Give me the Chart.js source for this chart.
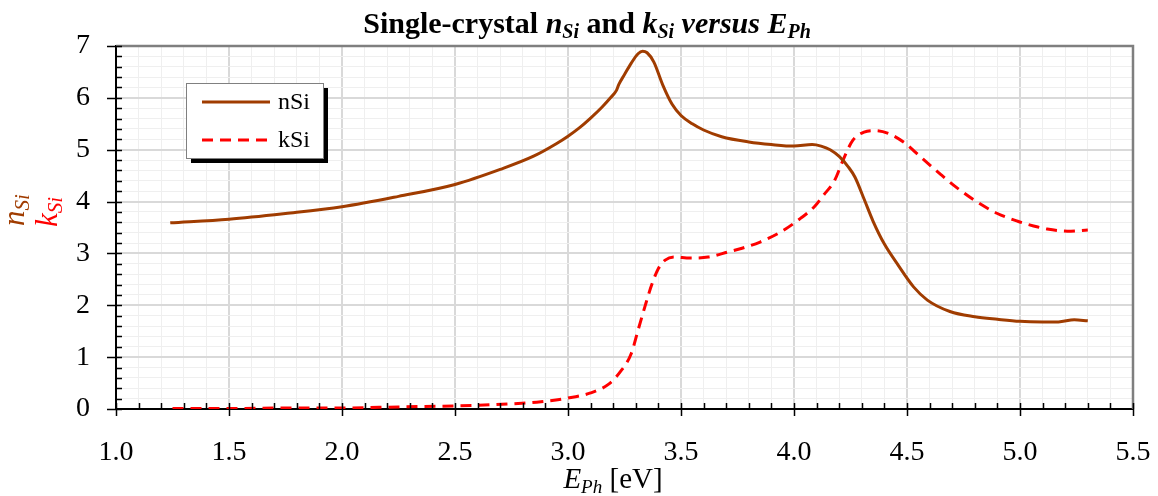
<!DOCTYPE html>
<html>
<head>
<meta charset="utf-8">
<title>Single-crystal nSi and kSi versus EPh</title>
<script src="https://cdn.jsdelivr.net/npm/chart.js@4.4.1/dist/chart.umd.min.js"></script>
<style>
  html, body { margin: 0; padding: 0; background: #fff; }
  #wrap { width: 1158px; height: 496px; }
</style>
</head>
<body>
<div id="wrap"><canvas id="nk" width="1158" height="496"></canvas></div>
<script>
/* ---------- 1.  Data: photon energy [eV] vs optical constants ---------- */
const nE  = [1.24, 1.50, 1.75, 2.00, 2.25, 2.50, 2.70, 2.85, 2.95, 3.00,
             3.05, 3.10, 3.15, 3.19, 3.215, 3.225, 3.25, 3.28, 3.31, 3.33,
             3.35, 3.38, 3.42, 3.46, 3.50, 3.55, 3.60, 3.68, 3.80, 3.90,
             4.00, 4.08, 4.12, 4.16, 4.20, 4.24, 4.27, 4.31, 4.35, 4.40,
             4.46, 4.53, 4.59, 4.69, 4.80, 4.90, 5.00, 5.10, 5.17, 5.24, 5.30];
const nSi = [3.59, 3.66, 3.77, 3.90, 4.10, 4.33, 4.62, 4.88, 5.12, 5.26,
             5.42, 5.61, 5.82, 6.01, 6.15, 6.26, 6.45, 6.67, 6.85, 6.90,
             6.87, 6.69, 6.24, 5.88, 5.66, 5.50, 5.38, 5.25, 5.15, 5.10,
             5.07, 5.10, 5.07, 5.00, 4.87, 4.67, 4.47, 4.05, 3.62, 3.18,
             2.78, 2.35, 2.10, 1.88, 1.78, 1.73, 1.69, 1.68, 1.68, 1.72, 1.70];

const kE  = [1.25, 1.50, 1.75, 2.00, 2.25, 2.50, 2.75, 2.88, 3.00, 3.10,
             3.18, 3.23, 3.28, 3.31, 3.34, 3.37, 3.40, 3.43, 3.47, 3.54,
             3.62, 3.71, 3.77, 3.85, 3.94, 4.03, 4.09, 4.13, 4.18, 4.22,
             4.26, 4.31, 4.36, 4.42, 4.49, 4.56, 4.65, 4.72, 4.80, 4.90,
             4.99, 5.06, 5.12, 5.21, 5.30];
const kSi = [0.01, 0.01, 0.02, 0.02, 0.04, 0.06, 0.10, 0.14, 0.21, 0.31,
             0.48, 0.71, 1.07, 1.52, 1.97, 2.39, 2.71, 2.87, 2.93, 2.91,
             2.93, 3.03, 3.10, 3.22, 3.41, 3.68, 3.90, 4.12, 4.41, 4.83,
             5.18, 5.34, 5.37, 5.31, 5.13, 4.86, 4.52, 4.27, 4.02, 3.77,
             3.62, 3.53, 3.47, 3.43, 3.45];

/* axis ranges + steps */
const X_MIN = 1.0, X_MAX = 5.5, X_MAJOR = 0.5, X_MINOR = 0.1;
const Y_MIN = 0,   Y_MAX = 7,   Y_MAJOR = 1,   Y_MINOR = 0.2;

/* ---------- 2.  Styling ---------- */
const N_COLOR = "#a03c00", K_COLOR = "#ff0000";
const SERIF   = '"Liberation Serif", "Times New Roman", serif';

const onStep = (v, s) => Math.abs(v / s - Math.round(v / s)) < 1e-6;
const toXY   = (xs, ys) => xs.map((x, i) => ({ x, y: ys[i] }));

/* draws a run of differently styled pieces centred on cx */
function richText(ctx, parts, cx, baseY, color) {
  let w = 0;
  parts.forEach(p => { ctx.font = p.font; p.w = ctx.measureText(p.t).width; w += p.w; });
  let x = cx - w / 2;
  ctx.fillStyle = color; ctx.textAlign = "left"; ctx.textBaseline = "alphabetic";
  parts.forEach(p => { ctx.font = p.font; ctx.fillText(p.t, x, baseY + (p.dy || 0)); x += p.w; });
}

/* ---------- 3.  Frame / ticks / titles / legend ---------- */
const decorPlugin = {
  id: "decor",
  afterDraw(chart) {
    const { ctx, chartArea: a, scales: { x, y } } = chart;
    ctx.save();

    // top + right frame edges
    ctx.strokeStyle = "#7f7f7f"; ctx.lineWidth = 2.5;
    ctx.beginPath();
    ctx.moveTo(a.left, a.top); ctx.lineTo(a.right, a.top); ctx.lineTo(a.right, a.bottom);
    ctx.stroke();

    // tick marks: major cross the axis, minor point inwards
    ctx.strokeStyle = "#000"; ctx.lineWidth = 1.5;
    ctx.beginPath();
    x.ticks.forEach(t => {
      const px = Math.round(x.getPixelForValue(t.value)) + 0.5;
      const major = onStep(t.value, X_MAJOR);
      ctx.moveTo(px, a.bottom - 6); ctx.lineTo(px, a.bottom + (major ? 7 : 0));
    });
    y.ticks.forEach(t => {
      const py = Math.round(y.getPixelForValue(t.value)) + 0.5;
      const major = onStep(t.value, Y_MAJOR);
      ctx.moveTo(a.left - (major ? 9 : 0), py); ctx.lineTo(a.left + 6, py);
    });
    ctx.stroke();

    // chart title
    const B = s => `bold ${s}px ${SERIF}`, BI = s => `italic bold ${s}px ${SERIF}`;
    richText(ctx, [
      { t: "Single-crystal ", font: B(30) },
      { t: "n", font: BI(30) }, { t: "Si", font: BI(20), dy: 5 },
      { t: " and ", font: B(30) },
      { t: "k", font: BI(30) }, { t: "Si", font: BI(20), dy: 5 },
      { t: " versus E", font: BI(30) }, { t: "Ph", font: BI(20), dy: 5 }
    ], 587, 33, "#000");

    // x axis title
    const I = s => `italic ${s}px ${SERIF}`, R = s => `${s}px ${SERIF}`;
    richText(ctx, [
      { t: "E", font: I(29) }, { t: "Ph", font: I(19), dy: 5 }, { t: " [eV]", font: R(29) }
    ], 613, 488, "#000");

    // y axis title, two coloured lines
    ctx.save();
    ctx.translate(24, 210); ctx.rotate(-Math.PI / 2);
    richText(ctx, [{ t: "n", font: I(31) }, { t: "Si", font: I(21), dy: 5 }], 0, 0, N_COLOR);
    ctx.restore();
    ctx.save();
    ctx.translate(57, 212); ctx.rotate(-Math.PI / 2);
    richText(ctx, [{ t: "k", font: I(31) }, { t: "Si", font: I(21), dy: 5 }], 0, 0, K_COLOR);
    ctx.restore();

    // legend box with drop shadow
    const lx = 186, ly = 83, lw = 137, lh = 75;
    ctx.fillStyle = "#000"; ctx.fillRect(lx + 5, ly + 5, lw, lh);
    ctx.fillStyle = "#fff"; ctx.fillRect(lx, ly, lw, lh);
    ctx.strokeStyle = "#808080"; ctx.lineWidth = 1;
    ctx.strokeRect(lx + 0.5, ly + 0.5, lw, lh);
    chart.data.datasets.forEach((ds, i) => {
      const yy = ly + 19 + i * 38;
      ctx.strokeStyle = ds.borderColor; ctx.lineWidth = 3;
      ctx.setLineDash(ds.borderDash || []);
      ctx.beginPath(); ctx.moveTo(lx + 16, yy); ctx.lineTo(lx + 84, yy); ctx.stroke();
      ctx.setLineDash([]);
      ctx.fillStyle = "#000"; ctx.font = R(24); ctx.textBaseline = "middle";
      ctx.fillText(ds.label, lx + 92, yy + 1);
    });

    ctx.restore();
  }
};

/* ---------- 4.  Chart ---------- */
const gridColor = (c, s) => onStep(c.tick.value, s) ? "#d9d9d9" : "#efefef";
const gridWidth = (c, s) => onStep(c.tick.value, s) ? 2 : 1;

new Chart(document.getElementById("nk"), {
  type: "line",
  data: {
    datasets: [
      { label: "nSi", data: toXY(nE, nSi), borderColor: N_COLOR, borderWidth: 3,
        pointRadius: 0, fill: false, cubicInterpolationMode: "monotone" },
      { label: "kSi", data: toXY(kE, kSi), borderColor: K_COLOR, borderWidth: 3,
        borderDash: [11, 7], pointRadius: 0, fill: false, cubicInterpolationMode: "monotone" }
    ]
  },
  options: {
    responsive: false, animation: false,
    layout: { padding: { left: 0, top: 46, right: 25, bottom: 0 } },
    plugins: { legend: { display: false }, tooltip: { enabled: false } },
    scales: {
      x: {
        type: "linear", min: X_MIN, max: X_MAX,
        afterFit: s => { s.height = 87; s.paddingLeft = 0; s.paddingRight = 0; },
        // minor steps keep an empty label so their grid line stays
        ticks: { stepSize: X_MINOR, autoSkip: false, maxRotation: 0, padding: 27,
                 color: "#000", font: { family: SERIF, size: 28 },
                 callback: v => onStep(v, X_MAJOR) ? v.toFixed(1) : "" },
        grid: { drawTicks: false, color: c => gridColor(c, X_MAJOR), lineWidth: c => gridWidth(c, X_MAJOR) },
        border: { color: "#000", width: 2 }
      },
      y: {
        min: Y_MIN, max: Y_MAX,
        afterFit: s => { s.width = 116; s.paddingTop = 0; s.paddingBottom = 0; },
        ticks: { stepSize: Y_MINOR, autoSkip: false, padding: 26,
                 color: "#000", font: { family: SERIF, size: 28 },
                 callback: v => onStep(v, Y_MAJOR) ? String(Math.round(v)) : "" },
        grid: { drawTicks: false, color: c => gridColor(c, Y_MAJOR), lineWidth: c => gridWidth(c, Y_MAJOR) },
        border: { color: "#000", width: 2 }
      }
    }
  },
  plugins: [decorPlugin]
});
</script>
</body>
</html>
